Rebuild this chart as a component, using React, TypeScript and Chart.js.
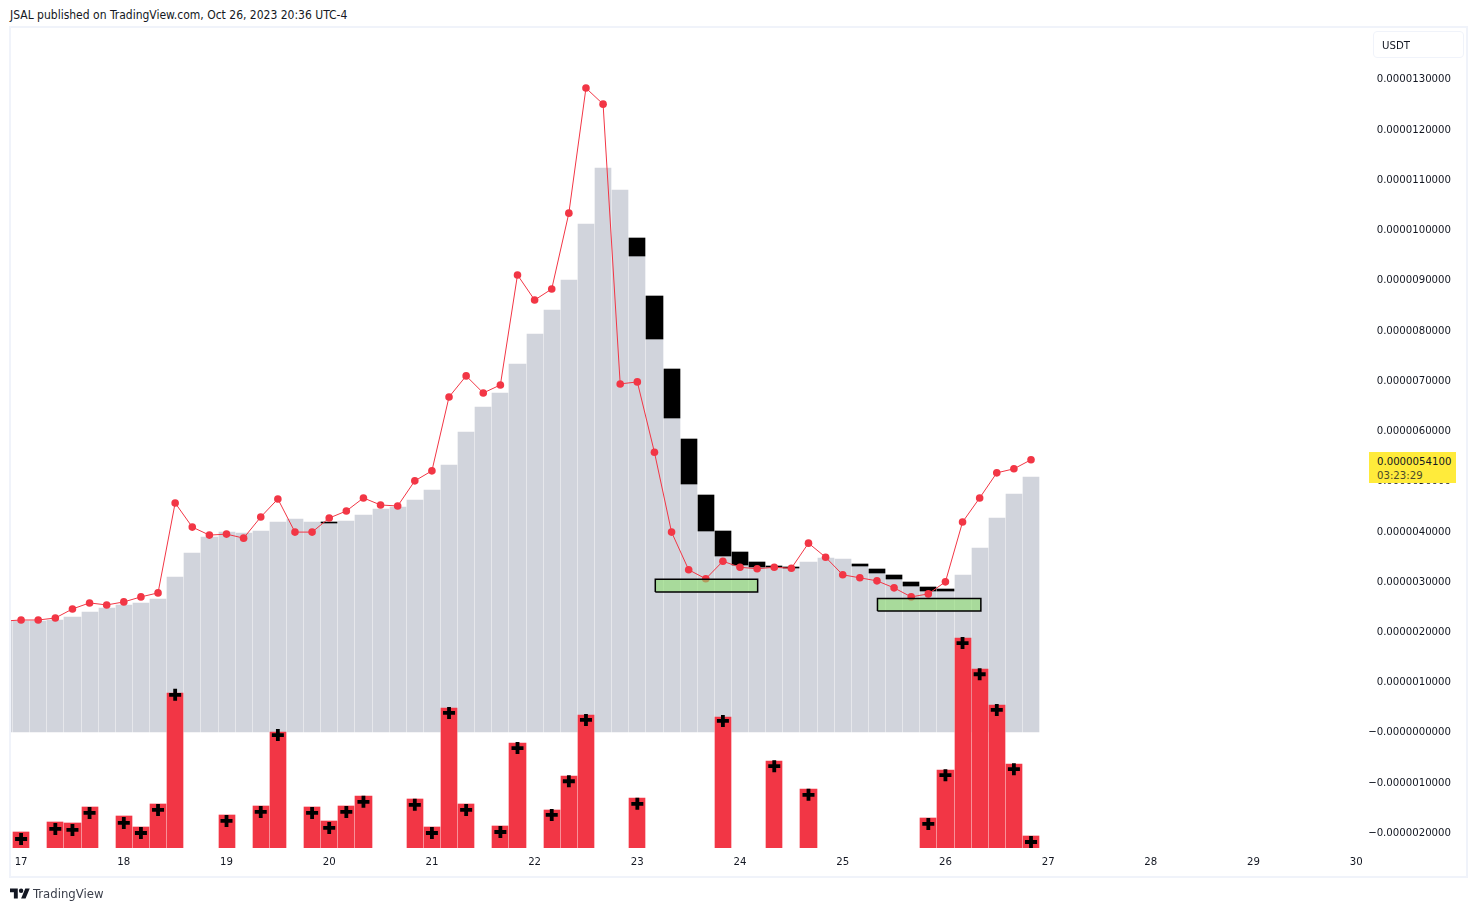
import { useEffect, useRef } from 'react';
import { Chart, registerables } from 'chart.js';

Chart.register(...registerables);

const FONT = '"DejaVu Sans Condensed", "DejaVu Sans", sans-serif';

// all prices are in millionths of USDT, bars are 4h, index 0 is the first bar of the 17th
const dayLabels = ['17', '18', '19', '20', '21', '22', '23', '24', '25', '26', '27', '28', '29', '30'];
const priceTicks = [-2, -1, 0, 1, 2, 3, 4, 5, 6, 7, 8, 9, 10, 11, 12, 13];

// starts one bar before the left edge of the pane
const closes = [
  2.20, 2.20, 2.20, 2.22, 2.28, 2.38, 2.46, 2.52, 2.56, 2.64, 3.08, 3.55, 3.87, 3.97, 3.95, 3.99,
  4.17, 4.23, 4.17, 4.15, 4.19, 4.31, 4.43, 4.47, 4.61, 4.81, 5.31, 5.96, 6.46, 6.74, 7.32, 7.91,
  8.39, 8.99, 10.10, 11.22, 10.78, 9.47, 7.81, 6.24, 4.93, 3.99, 3.49, 3.31, 3.27, 3.27, 3.25, 3.37,
  3.45, 3.43, 3.29, 3.16, 3.04, 2.90, 2.80, 2.80, 3.12, 3.65, 4.25, 4.73, 5.07,
];

const redLine = [
  2.20, 2.22, 2.22, 2.26, 2.44, 2.56, 2.52, 2.58, 2.68, 2.76, 4.55, 4.07, 3.91, 3.93, 3.85, 4.27,
  4.63, 3.97, 3.97, 4.25, 4.39, 4.65, 4.51, 4.49, 4.99, 5.19, 6.66, 7.08, 6.74, 6.90, 9.09, 8.59,
  8.81, 10.32, 12.81, 12.49, 6.92, 6.96, 5.56, 3.97, 3.22, 3.04, 3.39, 3.27, 3.24, 3.27, 3.25, 3.75,
  3.47, 3.12, 3.06, 3.00, 2.86, 2.68, 2.74, 2.98, 4.17, 4.65, 5.15, 5.23, 5.41,
];

// black candle bodies: they sit between the close above and this top
const blackIndex = [18, 36, 37, 38, 39, 40, 41, 42, 43, 44, 45, 49, 50, 51, 52, 53, 54];
const blackTops = [4.17, 9.82, 8.67, 7.22, 5.82, 4.71, 3.99, 3.57, 3.37, 3.29, 3.27, 3.33, 3.24, 3.12, 2.98, 2.88, 2.84];

const volumeIndex = [
  0, 2, 3, 4, 6, 7, 8, 9, 12, 14, 15, 17, 18, 19, 20, 23, 24, 25, 26, 28, 29, 31, 32, 33, 36, 41, 44,
  46, 53, 54, 55, 56, 57, 58, 59,
];
const volumeTops = [
  -2.00, -1.80, -1.82, -1.50, -1.68, -1.90, -1.44, 0.77, -1.66, -1.48, -0.01, -1.50, -1.78, -1.48,
  -1.28, -1.34, -1.90, 0.47, -1.44, -1.88, -0.23, -1.56, -0.89, 0.33, -1.32, 0.29, -0.59, -1.14,
  -1.72, -0.77, 1.86, 1.24, 0.53, -0.65, -2.08,
];
const crossMarks = [
  -2.14, -1.94, -1.96, -1.62, -1.82, -2.02, -1.56, 0.73, -1.78, -1.60, -0.07, -1.62, -1.92, -1.60,
  -1.40, -1.46, -2.02, 0.37, -1.56, -2.00, -0.33, -1.66, -0.99, 0.23, -1.44, 0.21, -0.69, -1.26,
  -1.84, -0.87, 1.76, 1.14, 0.43, -0.75, -2.20,
];

const zoneA = { from: 37.05, to: 43.03, low: 2.78, high: 3.03 };
const zoneB = { from: 50.03, to: 56.07, low: 2.40, high: 2.65 };

const X_MIN = -0.59;
const X_MAX = 78.57;
const Y_MIN = -2.319;
const Y_MAX = 14.006;

const zonePoints = (z: typeof zoneA) => [
  { x: z.from, y: z.low },
  { x: z.to, y: z.low },
  { x: z.to, y: z.high },
  { x: z.from, y: z.high },
  { x: z.from, y: z.low },
];

const priceLabel = (v: number) => {
  const text = (Math.abs(v) * 1e-6).toFixed(10);
  return v > 0 ? text : '\u2212' + text;
};

// tradingview snaps bars to whole pixels with a 1px gap, chart.js doesn't
const snapBars = {
  id: 'snapBars',
  beforeDatasetsDraw(chart: any) {
    const xScale = chart.scales.x;
    chart.getSortedVisibleDatasetMetas().forEach((meta: any) => {
      if (meta.type !== 'bar') return;
      meta.data.forEach((bar: any, i: number) => {
        const idx = meta.controller.getParsed(i).x;
        const left = Math.round(xScale.getPixelForValue(idx) - 8);
        const right = Math.round(xScale.getPixelForValue(idx + 1) - 8) - 1;
        bar.x = (left + right) / 2;
        bar.width = right - left;
        bar.y = Math.round(bar.y);
        bar.base = Math.round(bar.base);
      });
    });
  },
};

const App = () => {
  const canvasRef = useRef<HTMLCanvasElement | null>(null);

  useEffect(() => {
    if (!canvasRef.current) return;

    const zoneStyle = {
      type: 'line' as const,
      borderColor: '#000000',
      borderWidth: 1.5,
      backgroundColor: 'rgba(140, 222, 112, 0.6)',
      fill: 'shape',
      pointRadius: 0,
      tension: 0,
      order: 0,
    };

    const chart = new Chart(canvasRef.current, {
      type: 'bar',
      plugins: [snapBars],
      data: {
        datasets: [
          { ...zoneStyle, data: zonePoints(zoneA) },
          { ...zoneStyle, data: zonePoints(zoneB) },
          {
            type: 'line',
            data: volumeIndex.map((x, i) => ({ x, y: crossMarks[i] })),
            showLine: false,
            pointStyle: 'cross',
            pointRadius: 6,
            pointBorderWidth: 3.8,
            pointBorderColor: '#000000',
            order: 1,
          },
          {
            type: 'line',
            data: redLine.map((y, i) => ({ x: i - 1, y })),
            borderColor: '#F23645',
            borderWidth: 1,
            pointRadius: 3.8,
            pointBorderWidth: 0,
            pointBackgroundColor: '#F23645',
            tension: 0,
            order: 2,
          },
          {
            data: volumeIndex.map((x, i) => ({ x, y: [Y_MIN, volumeTops[i]] })),
            backgroundColor: '#F23645',
            barThickness: 16,
            grouped: false,
            order: 3,
          },
          {
            data: blackIndex.map((x, i) => ({ x, y: [closes[x + 1], blackTops[i]] })),
            backgroundColor: '#000000',
            barThickness: 16,
            grouped: false,
            order: 4,
          },
          {
            data: closes.map((y, i) => ({ x: i - 1, y })),
            backgroundColor: '#D1D4DC',
            barThickness: 16,
            grouped: false,
            order: 5,
          },
        ] as any,
      },
      options: {
        responsive: false,
        animation: false,
        devicePixelRatio: 1,
        events: [],
        layout: { padding: { left: 11, right: 26, top: 28, bottom: 23 } },
        plugins: { legend: { display: false }, tooltip: { enabled: false } },
        scales: {
          x: {
            type: 'linear',
            offset: false,
            min: X_MIN,
            max: X_MAX,
            grid: { display: false, offset: false, drawTicks: false },
            border: { display: false },
            afterFit: (s: any) => {
              s.height = 40;
            },
            afterBuildTicks: (s: any) => {
              s.ticks = dayLabels.map((_, i) => ({ value: i * 6 }));
            },
            ticks: {
              autoSkip: false,
              maxRotation: 0,
              padding: 7,
              color: '#131722',
              font: { family: FONT, size: 11.3 },
              callback: (v: any) => dayLabels[v / 6],
            },
          },
          y: {
            type: 'linear',
            position: 'right',
            min: Y_MIN,
            max: Y_MAX,
            grid: { display: false },
            border: { display: false },
            afterFit: (s: any) => {
              s.width = 85;
            },
            afterBuildTicks: (s: any) => {
              s.ticks = priceTicks.map((value) => ({ value }));
            },
            ticks: {
              autoSkip: false,
              crossAlign: 'far',
              padding: 3,
              labelOffset: 1,
              color: '#131722',
              font: { family: FONT, size: 11.3 },
              callback: (v: any) => priceLabel(v),
            },
          },
        },
      } as any,
    });

    return () => chart.destroy();
  }, []);

  return (
    <div style={{ position: 'absolute', left: 0, top: 0, width: 1477, height: 911, fontFamily: FONT, color: '#131722', background: '#fff', overflow: 'hidden' }}>
      <div style={{ position: 'absolute', left: 10, top: 8, fontSize: 12, lineHeight: '15px', whiteSpace: 'nowrap' }}>
        JSAL published on TradingView.com, Oct 26, 2023 20:36 UTC-4
      </div>
      <div style={{ position: 'absolute', left: 9, top: 26, width: 1455, height: 848, border: '2px solid #F0F3FA' }} />
      <canvas ref={canvasRef} width={1477} height={911} style={{ position: 'absolute', left: 0, top: 0 }} />
      <div style={{ position: 'absolute', left: 1373, top: 31, width: 91, height: 27, boxSizing: 'border-box', border: '1px solid #F0F3FA', borderRadius: 4, fontSize: 11.3, lineHeight: '27px', paddingLeft: 8 }}>
        USDT
      </div>
      <div style={{ position: 'absolute', left: 1369, top: 452, width: 87, height: 31, background: '#FFEB3B', fontSize: 11.3, lineHeight: '14px' }}>
        <div style={{ paddingLeft: 8, paddingTop: 3 }}>0.0000054100</div>
        <div style={{ paddingLeft: 8, color: '#4a4a2a' }}>03:23:29</div>
      </div>
      <svg viewBox="0 0 36 28" width="20" height="16" style={{ position: 'absolute', left: 10, top: 886 }}>
        <path d="M14 22H7V11H0V4h14v18zM28 22h-8l7.5-18h8L28 22z" fill="#131722" />
        <circle cx="20" cy="8" r="4" fill="#131722" />
      </svg>
      <div style={{ position: 'absolute', left: 33, top: 885, fontSize: 13, lineHeight: '17px', color: '#3a3e4a' }}>TradingView</div>
    </div>
  );
};

export default App;
